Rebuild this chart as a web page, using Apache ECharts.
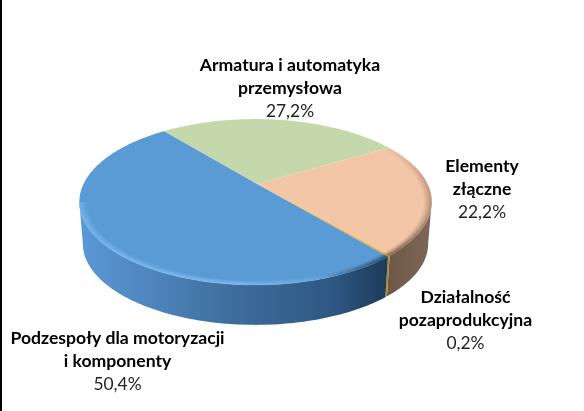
<!DOCTYPE html>
<html><head><meta charset="utf-8">
<style>html,body{margin:0;padding:0;background:#fff}#c{width:584px;height:411px}</style>
<script src="https://cdn.jsdelivr.net/npm/echarts@6/dist/echarts.min.js"></script>
</head><body><div id="c"></div>
<script>
const categories = ['Armatura i automatyka\nprzemysłowa', 'Elementy\nzłączne', 'Działalność\npozaprodukcyjna', 'Podzespoły dla motoryzacji\ni komponenty'];
const values = [27.2, 22.2, 0.2, 50.4];
const percentLabels = ['27,2%', '22,2%', '0,2%', '50,4%'];

const topColors = ['#c4d8ac', '#f4c6a8', '#e8b020', '#5b9bd5'];
const labelCenters = [[290, 88.5], [482, 189], [465.5, 320.5], [117.5, 361.5]];

const START = -128.5, CX = 255.5, CY = 184, R = 172, S = 79, K = 0.217, DY = 42, SC = 0.98, EY = 202;
const WALL_FROM = 12.5, WALL_TO = 167.5;
const total = values.reduce((a, b) => a + b, 0);
const angles = [START];
values.forEach(v => angles.push(angles[angles.length - 1] + v / total * 360));

function topPoint(deg) {
  const t = deg * Math.PI / 180, u = Math.cos(t), v = Math.sin(t), w = 1 - K * v;
  return [CX + R * u / w, CY + S * v / w];
}
function bottomPoint(deg) {
  const p = topPoint(deg);
  return [CX + SC * (p[0] - CX), CY + DY + SC * (p[1] - CY)];
}
function insetPoint(s) {
  return deg => { const p = topPoint(deg); return [CX + s * (p[0] - CX), EY + s * (p[1] - EY)]; };
}
function arc(fn, a, b) {
  const out = [], n = Math.max(2, Math.ceil(Math.abs(b - a)));
  for (let i = 0; i <= n; i++) out.push(fn(a + (b - a) * i / n));
  return out;
}
const LG = (stops) => new echarts.graphic.LinearGradient(80, 0, 430, 0, stops.map(s => ({offset: s[0], color: s[1]})), true);
const VG = (stops) => new echarts.graphic.LinearGradient(0, 150, 0, 262, stops.map(s => ({offset: s[0], color: s[1]})), true);
const wallFill = [null,
  LG([[0.8, '#675244'], [0.87, '#6c5747'], [1, '#7c6757']]),
  LG([[0, '#a88a20'], [1, '#a88a20']]),
  LG([[0, '#5a98d6'], [0.18, '#4f88c0'], [0.45, '#3d6c9b'], [0.72, '#2e5883'], [0.86, '#1f3e5e'], [1, '#1d3a57']])
];
const bevel = [null,
  VG([[0, 'rgba(120,95,75,0.05)'], [0.35, 'rgba(120,95,75,0.55)'], [1, 'rgba(110,85,65,0.95)']]),
  VG([[0, 'rgba(150,110,20,0.6)'], [1, 'rgba(150,110,20,0.6)']]),
  LG([[0, 'rgba(125,185,240,0.9)'], [0.45, 'rgba(125,185,240,0.9)'], [0.68, 'rgba(110,170,225,0.6)'], [0.8, 'rgba(40,75,110,0.6)'], [0.88, 'rgba(30,60,90,0.9)'], [1, 'rgba(30,60,90,1)']])
];
const BEVEL_STEPS = [[1.0, 0.75], [0.992, 0.6], [0.984, 0.45], [0.976, 0.3], [0.968, 0.18], [0.96, 0.08]];

function renderItem(params, api) {
  const i = api.value(0), a = angles[i], b = angles[i + 1];
  const kids = [];
  const lo = Math.max(a, WALL_FROM), hi = Math.min(b, WALL_TO);
  if (hi > lo) {
    const pts = arc(topPoint, lo, hi).concat(arc(bottomPoint, hi, lo));
    kids.push({type: 'polygon', z2: 1, shape: {points: pts}, style: {fill: wallFill[i]}, silent: true});
  }
  const face = [[CX + 1.5, CY]].concat(arc(topPoint, a, b));
  kids.push({type: 'polygon', z2: 2, shape: {points: face}, style: {fill: topColors[i]}, silent: true});
  const rimLo = i === 1 ? a : lo;
  if (hi > rimLo && bevel[i]) {
    BEVEL_STEPS.forEach(([s, op]) => {
      const f = insetPoint(s - 0.004);
      kids.push({type: 'polyline', z2: 3, shape: {points: arc(f, rimLo, hi)},
        style: {fill: 'none', stroke: bevel[i], lineWidth: 1.6, opacity: op}, silent: true});
    });
  }
  const lines = categories[i].split('\n').map(s => '{b|' + s + '}');
  lines.push('{v|' + percentLabels[i] + '}');
  kids.push({type: 'text', z2: 5, x: labelCenters[i][0], y: labelCenters[i][1], silent: true,
    style: {text: lines.join('\n'), align: 'center', verticalAlign: 'middle',
      rich: {
        b: {fontFamily: 'Lato', fontWeight: 'bold', fontSize: 17.6, lineHeight: 23, fill: '#000', align: 'center'},
        v: {fontFamily: 'Lato', fontSize: 17.4, lineHeight: 23, fill: '#222', align: 'center'}
      }}});
  return {type: 'group', children: kids};
}

const chart = echarts.init(document.getElementById('c'), null, {renderer: 'canvas'});
chart.setOption({
  animation: false,
  backgroundColor: '#fff',
  graphic: [{type: 'rect', left: 0, top: 0, shape: {width: 2, height: 411}, style: {fill: '#000'}, silent: true}],
  series: [{
    type: 'custom', coordinateSystem: 'none', silent: true,
    renderItem: renderItem,
    data: values.map((v, i) => [i, v])
  }]
});
</script></body></html>
